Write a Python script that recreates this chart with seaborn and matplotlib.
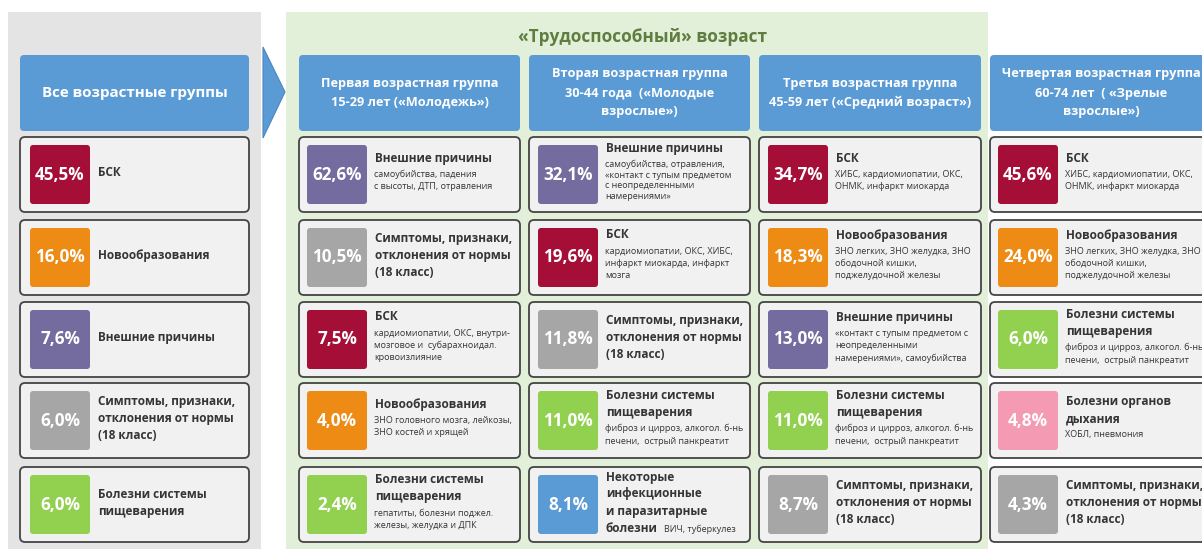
import matplotlib
matplotlib.use("Agg")
import matplotlib.pyplot as plt
from matplotlib.patches import FancyBboxPatch, Rectangle, Polygon
import seaborn as sns

# ===============================
# Data
# ===============================
title_working = "«Трудоспособный» возраст"

group_titles = [
    "Все возрастные группы",
    "Первая возрастная группа\n15-29 лет («Молодежь»)",
    "Вторая возрастная группа\n30-44 года  («Молодые\nвзрослые»)",
    "Третья возрастная группа\n45-59 лет («Средний возраст»)",
    "Четвертая возрастная группа\n60-74 лет  ( «Зрелые\nвзрослые»)",
]

SYMPT = "Симптомы, признаки,\nотклонения от нормы\n(18 класс)"
DIGEST = "Болезни системы\nпищеварения"

# group 0: all ages
all_pct = [45.5, 16.0, 7.6, 6.0, 6.0]
all_kind = ["bsk", "neo", "ext", "sym", "dig"]
all_label = ["БСК", "Новообразования", "Внешние причины", SYMPT, DIGEST]
all_sub = ["", "", "", "", ""]

# group 1: 15-29
g1_pct = [62.6, 10.5, 7.5, 4.0, 2.4]
g1_kind = ["ext", "sym", "bsk", "neo", "dig"]
g1_label = ["Внешние причины", SYMPT, "БСК", "Новообразования", DIGEST]
g1_sub = [
    "самоубийства, падения\nс высоты, ДТП, отравления",
    "",
    "кардиомиопатии, ОКС, внутри-\nмозговое и  субарахноидал.\nкровоизлияние",
    "ЗНО головного мозга, лейкозы,\nЗНО костей и хрящей",
    "гепатиты, болезни поджел.\nжелезы, желудка и ДПК",
]

# group 2: 30-44
g2_pct = [32.1, 19.6, 11.8, 11.0, 8.1]
g2_kind = ["ext", "bsk", "sym", "dig", "inf"]
g2_label = ["Внешние причины", "БСК", SYMPT, DIGEST,
            "Некоторые\nинфекционные\nи паразитарные\nболезни"]
g2_sub = [
    "самоубийства, отравления,\n«контакт с тупым предметом\nс неопределенными\nнамерениями»",
    "кардиомиопатии, ОКС, ХИБС,\nинфаркт миокарда, инфаркт\nмозга",
    "",
    "фиброз и цирроз, алкогол. б-нь\nпечени,  острый панкреатит",
    "ВИЧ, туберкулез",
]

# group 3: 45-59
g3_pct = [34.7, 18.3, 13.0, 11.0, 8.7]
g3_kind = ["bsk", "neo", "ext", "dig", "sym"]
g3_label = ["БСК", "Новообразования", "Внешние причины", DIGEST, SYMPT]
g3_sub = [
    "ХИБС, кардиомиопатии, ОКС,\nОНМК, инфаркт миокарда",
    "ЗНО легких, ЗНО желудка, ЗНО\nободочной кишки,\nподжелудочной железы",
    "«контакт с тупым предметом с\nнеопределенными\nнамерениями», самоубийства",
    "фиброз и цирроз, алкогол. б-нь\nпечени,  острый панкреатит",
    "",
]

# group 4: 60-74
g4_pct = [45.6, 24.0, 6.0, 4.8, 4.3]
g4_kind = ["bsk", "neo", "dig", "resp", "sym"]
g4_label = ["БСК", "Новообразования", DIGEST, "Болезни органов\nдыхания", SYMPT]
g4_sub = [
    "ХИБС, кардиомиопатии, ОКС,\nОНМК, инфаркт миокарда",
    "ЗНО легких, ЗНО желудка, ЗНО\nободочной кишки,\nподжелудочной железы",
    "фиброз и цирроз, алкогол. б-нь\nпечени,  острый панкреатит",
    "ХОБЛ, пневмония",
    "",
]

groups = [
    (all_pct, all_kind, all_label, all_sub),
    (g1_pct, g1_kind, g1_label, g1_sub),
    (g2_pct, g2_kind, g2_label, g2_sub),
    (g3_pct, g3_kind, g3_label, g3_sub),
    (g4_pct, g4_kind, g4_label, g4_sub),
]

palette = {
    "bsk": "#a50e37",
    "neo": "#ee8b15",
    "ext": "#746b9e",
    "sym": "#a6a6a6",
    "dig": "#92d050",
    "inf": "#5b9bd5",
    "resp": "#f59ab3",
}

# ===============================
# Layout (pixel space)
# ===============================
W, H = 1202, 549
col_x = [20, 299, 529, 759, 990]
col_w = [229, 221, 221, 222, 222]
sq_off = [10, 8, 9, 9, 8]
row_y = [137, 220, 302, 383, 467]
row_h = 75
head_y, head_h = 55, 76

sns.set_theme(style="white")
plt.rcParams['font.family'] = ['Open Sans', 'DejaVu Sans']

fig = plt.figure(figsize=(W / 100, H / 100), dpi=100)
ax = fig.add_axes([0, 0, 1, 1])
ax.set_xlim(0, W)
ax.set_ylim(H, 0)
ax.axis('off')

TXT = "#353535"

# background panels
ax.add_patch(Rectangle((8, 12), 253, H, fc="#e4e4e4", ec="none"))
ax.add_patch(Rectangle((286, 12), 702, H, fc="#e2f0d9", ec="none"))
ax.add_patch(Polygon([(263, 47), (285, 92), (263, 138)], closed=True,
                     fc="#5b9bd5", ec="#4a86bd", lw=0.8))
ax.text(643, 37, title_working, ha='center', va='center',
        fontsize=12.4, fontweight='bold', color="#5e7d3e")


def rbox(x, y, w, h, fc, ec="none", lw=0, r=4):
    ax.add_patch(FancyBboxPatch((x + r, y + r), w - 2 * r, h - 2 * r,
                                boxstyle=f"round,pad={r}", fc=fc, ec=ec, lw=lw))


for gi, (pct, kind, label, sub) in enumerate(groups):
    x0, w = col_x[gi], col_w[gi]
    # header
    rbox(x0, head_y, w, head_h, "#5b9bd5", r=4)
    lines = group_titles[gi].split("\n")
    fs_head = 10.9 if gi == 0 else 9.2
    n = len(lines)
    for li, ln in enumerate(lines):
        yy = head_y + head_h / 2 + (li - (n - 1) / 2) * 19
        ax.text(x0 + w / 2, yy, ln, ha='center', va='center', color='white',
                fontsize=fs_head, fontweight='bold')

    for ri in range(5):
        y0 = row_y[ri]
        rbox(x0, y0, w, row_h, "#f1f1f1", ec="#444444", lw=1.3, r=5)
        sx = x0 + sq_off[gi]
        rbox(sx, y0 + 8, 60, row_h - 16, palette[kind[ri]], r=3)
        ax.text(sx + 30, y0 + row_h / 2, f"{pct[ri]:.1f}%".replace(".", ","),
                ha='center', va='center', color='white',
                fontsize=12.3, fontweight='bold')

        tx = sx + 68
        mlines = label[ri].split("\n")
        slines = sub[ri].split("\n") if sub[ri] else []
        inline = kind[ri] == "inf"
        slines_stack = [] if inline else slines
        ys = [i * 17 for i in range(len(mlines))]
        if slines_stack:
            step = 10.5 if len(slines_stack) > 3 else 12.5
            ys += [ys[-1] + 16 + j * step for j in range(len(slines_stack))]
        shift = y0 + row_h / 2 - (ys[0] + ys[-1]) / 2 - 2
        last = None
        for li, ln in enumerate(mlines):
            last = ax.text(tx, ys[li] + shift, ln, ha='left', va='center',
                           color=TXT, fontsize=8.5, fontweight='bold')
        for j, ln in enumerate(slines_stack):
            ax.text(tx - 1, ys[len(mlines) + j] + shift, ln, ha='left',
                    va='center', color=TXT, fontsize=6.5)
        if inline:
            fig.canvas.draw()
            bb = last.get_window_extent()
            x_end = ax.transData.inverted().transform((bb.x1, bb.y0))[0]
            ax.text(x_end + 6, last.get_position()[1] + 1, slines[0],
                    ha='left', va='center', color=TXT, fontsize=6.5)

fig.savefig("out.png", dpi=100)
